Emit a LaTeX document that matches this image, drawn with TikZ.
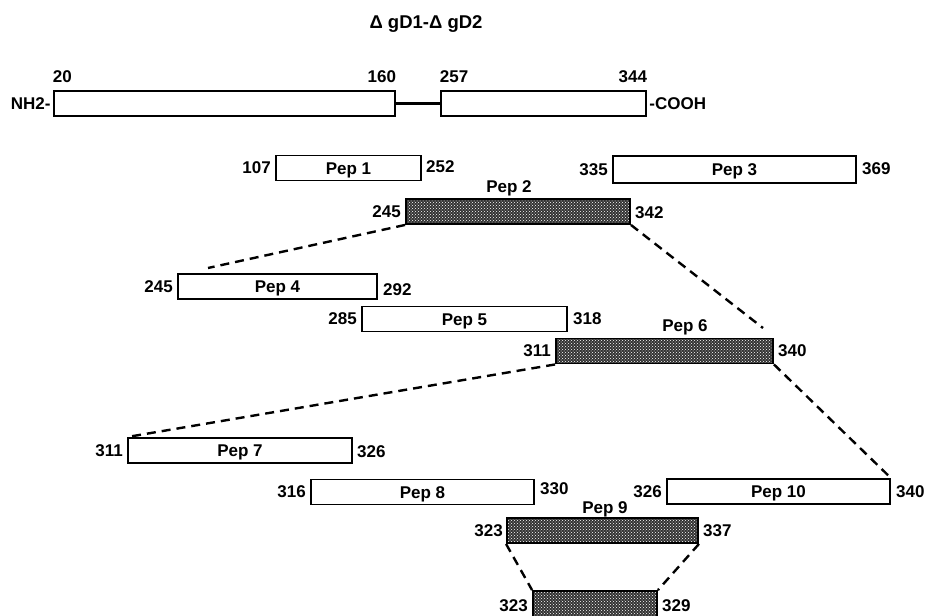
\documentclass[tikz,border=0pt]{standalone}
\usepackage{fontspec}
\setmainfont{Liberation Sans}
\usetikzlibrary{patterns}
\tikzset{
  lbl/.style={font=\bfseries\fontsize{17}{19}\selectfont, inner sep=0pt},
  pbox/.style={draw, line width=1.9pt, fill=white, minimum height=25pt, inner sep=0pt, lbl,
    text height=12pt, text depth=0pt},
  sbox/.style={draw, line width=1.9pt, minimum height=25pt, inner sep=0pt,
    preaction={fill=black!80}, pattern=crosshatch dots, pattern color=white},
  dashline/.style={line width=2.4pt, dash pattern=on 9pt off 6pt},
}
\begin{document}
\begin{tikzpicture}[x=1pt,y=-1pt]
\clip (0,0) rectangle (925,615);
% title
\node[font=\bfseries\fontsize{18.5}{21}\selectfont, inner sep=0pt] (title) at (426,24) {Δ gD1-Δ gD2};
% top protein
\node[draw, line width=2.5pt, minimum width=341pt, minimum height=25pt, inner sep=0pt] (dA) at (224.5,103.5) {};
\node[draw, line width=2.5pt, minimum width=205pt, minimum height=25pt, inner sep=0pt] (dB) at (543.5,103.5) {};
\draw[line width=2.5pt] (dA.east) -- (dB.west);
\node[lbl, anchor=east] (nh2) at ([xshift=-2pt]dA.west) {NH2-};
\node[lbl, anchor=west] (cooh) at ([xshift=2pt]dB.east) {-COOH};
\node[lbl, anchor=south west] (n20) at ([yshift=7pt]dA.north west) {20};
\node[lbl, anchor=south east] (n160) at ([yshift=7pt]dA.north east) {160};
\node[lbl, anchor=south west] (n257) at ([yshift=7pt]dB.north west) {257};
\node[lbl, anchor=south east] (n344) at ([yshift=7pt]dB.north east) {344};
% peptides
\node[pbox, minimum width=145pt] (p1) at (348.5,168) {Pep 1};
\node[lbl, anchor=east] (p1l) at ([xshift=-4pt]p1.west) {107};
\node[lbl, anchor=west] (p1r) at ([xshift=4pt,yshift=1pt]p1.east) {252};

\node[pbox, minimum width=243pt, minimum height=27pt] (p3) at (734.5,169.5) {Pep 3};
\node[lbl, anchor=east] (p3l) at ([xshift=-4pt]p3.west) {335};
\node[lbl, anchor=west] (p3r) at ([xshift=5pt,yshift=1pt]p3.east) {369};

\node[sbox, minimum width=224pt] (p2) at (518,211.5) {};
\node[lbl, anchor=south] (p2t) at ([yshift=3pt]509,199) {Pep 2};
\node[lbl, anchor=east] (p2l) at ([xshift=-4pt]p2.west) {245};
\node[lbl, anchor=west] (p2r) at ([xshift=4pt,yshift=-1pt]p2.east) {342};

\node[pbox, minimum width=199pt] (p4) at (277.5,286.5) {Pep 4};
\node[lbl, anchor=east] (p4l) at ([xshift=-4pt]p4.west) {245};
\node[lbl, anchor=west] (p4r) at ([xshift=5pt,yshift=-3pt]p4.east) {292};

\node[pbox, minimum width=205pt] (p5) at (464.5,319) {Pep 5};
\node[lbl, anchor=east] (p5l) at ([xshift=-4pt]p5.west) {285};
\node[lbl, anchor=west] (p5r) at ([xshift=5pt]p5.east) {318};

\node[sbox, minimum width=217pt] (p6) at (664.5,351) {};
\node[lbl, anchor=south] (p6t) at ([yshift=3pt]685,338) {Pep 6};
\node[lbl, anchor=east] (p6l) at ([xshift=-4pt]p6.west) {311};
\node[lbl, anchor=west] (p6r) at ([xshift=4pt]p6.east) {340};

\node[pbox, minimum width=224pt] (p7) at (240,450.5) {Pep 7};
\node[lbl, anchor=east] (p7l) at ([xshift=-4pt]p7.west) {311};
\node[lbl, anchor=west] (p7r) at ([xshift=4pt,yshift=-1pt]p7.east) {326};

\node[pbox, minimum width=223pt] (p8) at (422.5,492) {Pep 8};
\node[lbl, anchor=east] (p8l) at ([xshift=-4pt]p8.west) {316};
\node[lbl, anchor=west] (p8r) at ([xshift=5pt,yshift=3pt]p8.east) {330};

\node[pbox, minimum width=223pt] (p10) at (778.5,491.5) {Pep 10};
\node[lbl, anchor=east] (p10l) at ([xshift=-4pt]p10.west) {326};
\node[lbl, anchor=west] (p10r) at ([xshift=5pt]p10.east) {340};

\node[sbox, minimum width=191pt] (p9) at (602.5,530.5) {};
\node[lbl, anchor=south] (p9t) at ([yshift=1pt]605,518) {Pep 9};
\node[lbl, anchor=east] (p9l) at ([xshift=-3pt]p9.west) {323};
\node[lbl, anchor=west] (p9r) at ([xshift=4pt]p9.east) {337};

\node[sbox, minimum width=124pt, minimum height=30pt] (p11) at (595,606) {};
\node[lbl, anchor=east] (p11l) at ([xshift=-4pt]p11.west) {323};
\node[lbl, anchor=west] (p11r) at ([xshift=4pt]p11.east) {329};

% dashed zoom lines
\coordinate (e2l) at (208,268);
\coordinate (e2r) at (763,328);
\draw[dashline] (p2.south west) -- (e2l);
\draw[dashline] (p2.south east) -- (e2r);
\draw[dashline] (p6.south west) -- (p7.north west);
\draw[dashline] (p6.south east) -- (p10.north east);
\draw[dashline] (p9.south west) -- (p11.north west);
\draw[dashline] (p9.south east) -- (p11.north east);
\end{tikzpicture}
\end{document}
